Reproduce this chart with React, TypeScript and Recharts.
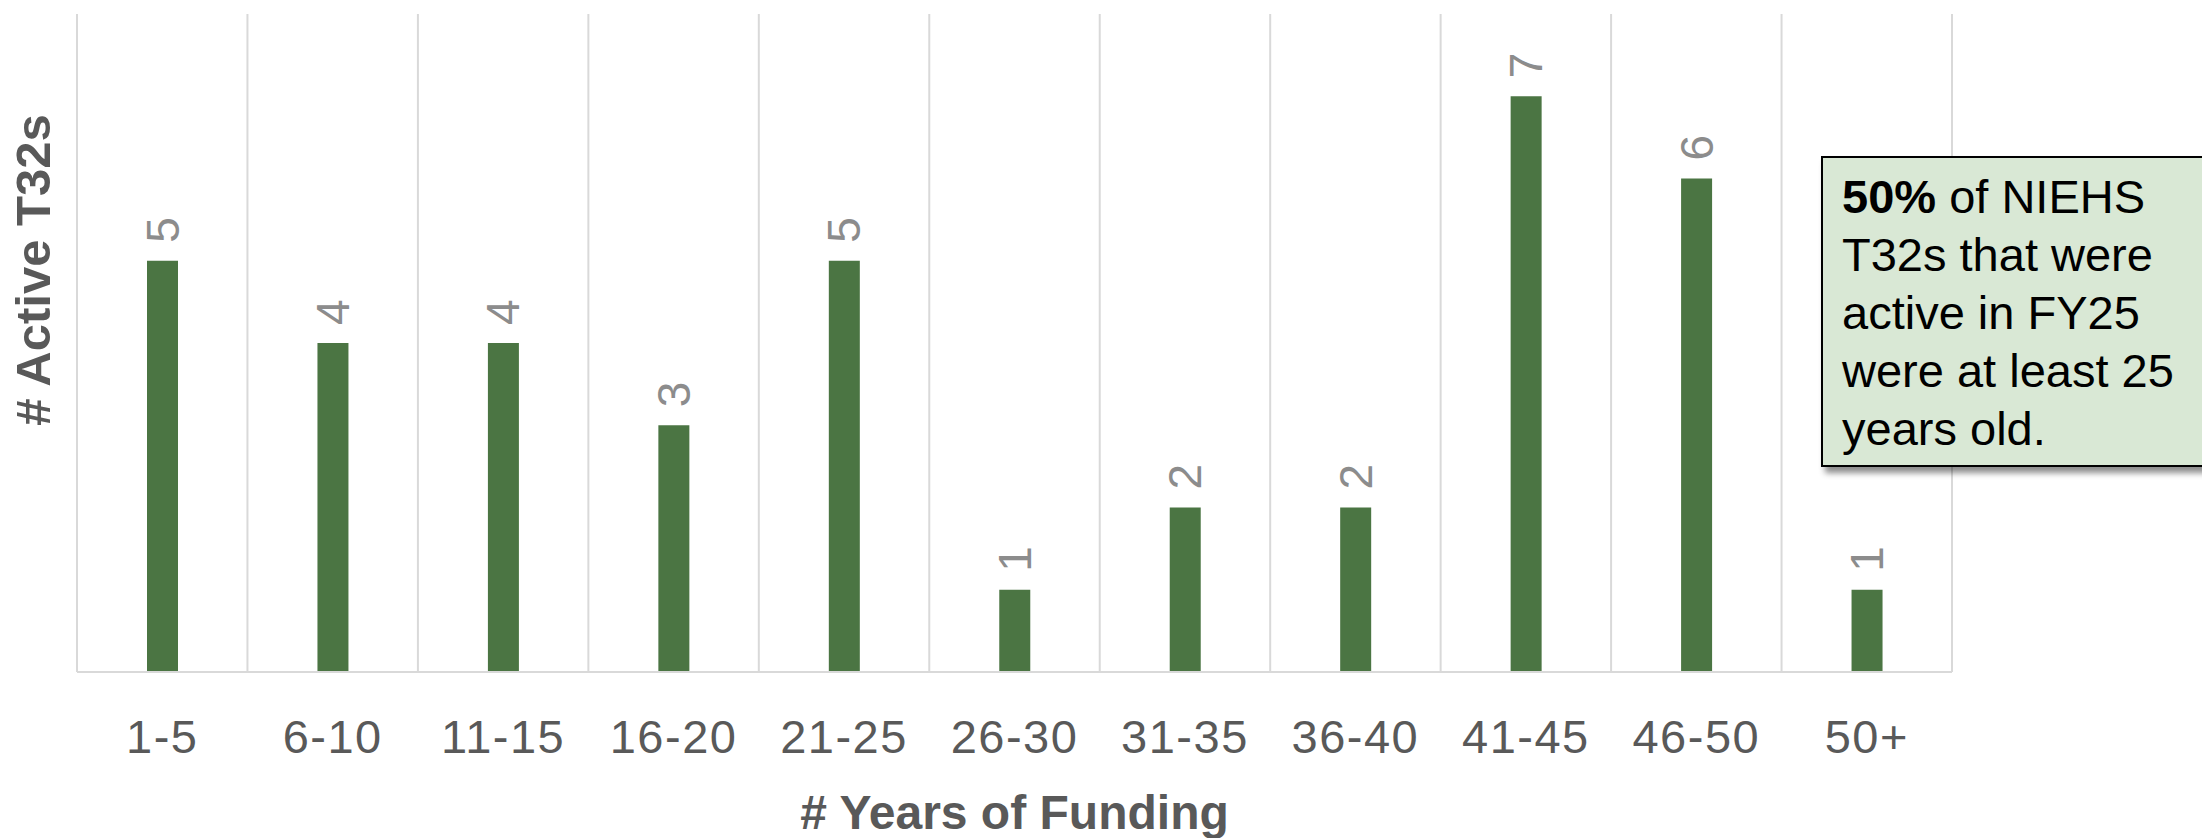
import { Bar, BarChart, CartesianGrid, LabelList, XAxis, YAxis } from "recharts";

const buckets = ["1-5", "6-10", "11-15", "16-20", "21-25", "26-30", "31-35", "36-40", "41-45", "46-50", "50+"];
const activeT32s = [5, 4, 4, 3, 5, 1, 2, 2, 7, 6, 1];
const yDomain = [0, 8];

const FONT = "'Liberation Sans', Arial, Helvetica, sans-serif";
const BAR_GREEN = "#4b7543";
const AXIS_GRAY = "#595959";
const LABEL_GRAY = "#8c8c8c";
const GRID = "#d9d9d9";

const W = 2202;
const H = 838;

const data = buckets.map((name, i) => ({ name, value: activeT32s[i] }));

function CategoryTick({ x, y, payload }: any) {
  return (
    <text
      x={x}
      y={y + 56}
      textAnchor="middle"
      dominantBaseline="central"
      fill={AXIS_GRAY}
      fontSize={47}
      letterSpacing={1.5}
      fontFamily={FONT}
    >
      {payload.value}
    </text>
  );
}

function ValueLabel({ x, y, width, value }: any) {
  const cx = x + width / 2;
  const ty = y - 18;
  return (
    <text
      x={cx}
      y={ty}
      transform={`rotate(-90 ${cx} ${ty})`}
      textAnchor="start"
      dominantBaseline="central"
      fill={LABEL_GRAY}
      fontSize={46}
      fontFamily={FONT}
    >
      {value}
    </text>
  );
}

export default function App() {
  return (
    <div
      style={{
        position: "absolute",
        left: 0,
        top: 0,
        width: W,
        height: H,
        overflow: "hidden",
        background: "#fff",
        fontFamily: FONT,
      }}
    >
      <BarChart
        width={W}
        height={H}
        data={data}
        margin={{ top: 14, right: 250, left: 0, bottom: 0 }}
        barSize={31}
      >
        <CartesianGrid
          horizontal={false}
          stroke={GRID}
          strokeWidth={2}
          verticalCoordinatesGenerator={({ offset }: any) =>
            Array.from({ length: buckets.length + 1 }, (_, i) => offset.left + (i * offset.width) / buckets.length)
          }
        />
        <XAxis
          dataKey="name"
          interval={0}
          height={166}
          tickLine={false}
          axisLine={{ stroke: GRID, strokeWidth: 2 }}
          tick={<CategoryTick />}
          label={{
            content: ({ viewBox }: any) => (
              <text
                x={viewBox.x + viewBox.width / 2}
                y={viewBox.y + 140}
                textAnchor="middle"
                dominantBaseline="central"
                fill={AXIS_GRAY}
                fontSize={48}
                fontWeight="bold"
                fontFamily={FONT}
              >
                # Years of Funding
              </text>
            ),
          }}
        />
        <YAxis
          domain={yDomain}
          width={77}
          tick={false}
          tickLine={false}
          axisLine={false}
          label={{
            content: () => (
              <text
                x={33}
                y={270}
                transform="rotate(-90 33 270)"
                textAnchor="middle"
                dominantBaseline="central"
                fill={AXIS_GRAY}
                fontSize={49}
                fontWeight="bold"
                fontFamily={FONT}
              >
                # Active T32s
              </text>
            ),
          }}
        />
        <Bar dataKey="value" fill={BAR_GREEN} isAnimationActive={false}>
          <LabelList dataKey="value" content={<ValueLabel />} />
        </Bar>
      </BarChart>

      {/* callout box, runs off the right edge */}
      <div
        style={{
          position: "absolute",
          left: 1821,
          top: 156,
          width: 460,
          height: 311,
          boxSizing: "border-box",
          border: "2px solid #000",
          background: "#d9e8d5",
          boxShadow: "4px 6px 6px rgba(0,0,0,0.45)",
          padding: "10px 0 0 19px",
          fontSize: 47,
          lineHeight: "58px",
          color: "#000",
          whiteSpace: "nowrap",
        }}
      >
        <b>50%</b> of NIEHS
        <br />
        T32s that were
        <br />
        active in FY25
        <br />
        were at least 25
        <br />
        years old.
      </div>
    </div>
  );
}
